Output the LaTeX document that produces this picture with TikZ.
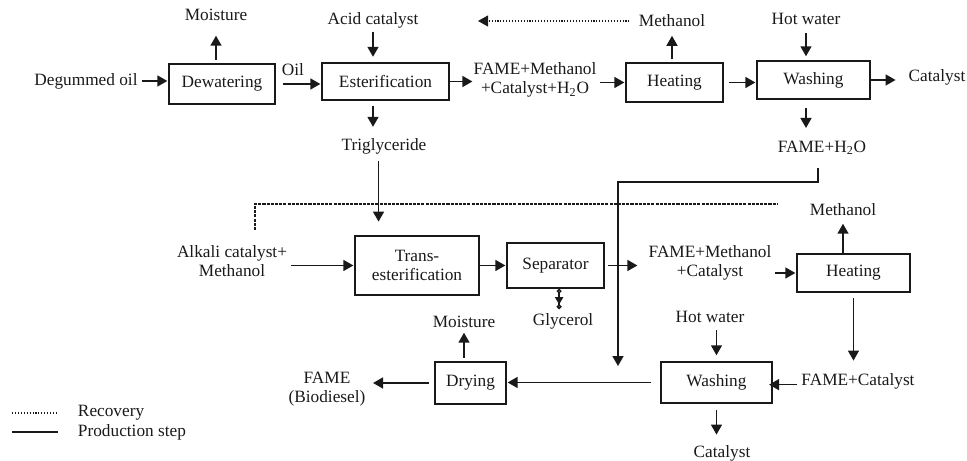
\documentclass[tikz,border=0pt]{standalone}
\usepackage{fontspec}
\setmainfont{Liberation Serif}
\usetikzlibrary{arrows.meta,positioning}
\definecolor{inkcolor}{RGB}{25,25,25}

\begin{document}
\begin{tikzpicture}[x=0.55pt, y=-0.55pt,
    every node/.style={font=\fontsize{9.5}{10.5}\selectfont, text=inkcolor},
    boxsize/.style 2 args={minimum width=#1*0.55pt, minimum height=#2*0.55pt},
    stage/.style={draw=inkcolor, line width=0.8pt, inner sep=0pt, align=center},
    lbl/.style={inner sep=2pt, align=center},
    flow/.style={draw=inkcolor, line width=0.95pt, shorten >=0.5pt,
      -{Triangle[length=5.5pt, width=6pt]}},
    recov/.style={draw=inkcolor, line width=0.6pt, densely dotted},
    recovdash/.style={draw=inkcolor, line width=0.6pt, dash pattern={on 1.7pt off 0.6pt}},
    drain/.style={draw=inkcolor, line width=0.8pt,
      {Circle[open, length=2.6pt]}-{Triangle[length=4pt, width=4.5pt] Circle[open, length=2.6pt]}}]
  \useasboundingbox (0,0) rectangle (967,461);

  % process steps
  \node[stage, boxsize={106}{40}] (dew) at (222,84) {Dewatering};
  \node[stage, boxsize={127}{37}] (est) at (385.5,81.5) {Esterification};
  \node[stage, boxsize={97}{39}] (heatA) at (674.5,82.5) {Heating};
  \node[stage, boxsize={113}{38}] (washA) at (813.5,80) {Washing};
  \node[stage, boxsize={124}{59}] (trans) at (417,265.5) {Trans-\\esterification};
  \node[stage, boxsize={97}{45}] (sep) at (555.5,265.5) {Separator};
  \node[stage, boxsize={113}{38}] (heatB) at (853.5,273) {Heating};
  \node[stage, boxsize={111}{41}] (washB) at (716.5,382.5) {Washing};
  \node[stage, boxsize={71}{42}] (dry) at (470.5,383) {Drying};

  % streams
  \node[lbl] (oil) at (86,81) {Degummed oil};
  \node[lbl] (moistA) at (216,15) {Moisture};
  \node[lbl] (oiltag) at (293,70) {Oil};
  \node[lbl] (acid) at (373,20) {Acid catalyst};
  \node[lbl] (trig) at (384,146) {Triglyceride};
  \node[lbl] (mixA) at (535,80) {FAME+Methanol\\+Catalyst+H\textsubscript{2}O};
  \node[lbl] (methA) at (672,21) {Methanol};
  \node[lbl] (hotA) at (806,19) {Hot water};
  \node[lbl] (catA) at (937,77) {Catalyst};
  \node[lbl] (fameh) at (822,148) {FAME+H\textsubscript{2}O};
  \node[lbl] (alk) at (232,261) {Alkali catalyst+\\Methanol};
  \node[lbl] (gly) at (563,321) {Glycerol};
  \node[lbl] (mixB) at (710,263) {FAME+Methanol\\+Catalyst};
  \node[lbl] (methB) at (843,210) {Methanol};
  \node[lbl] (famec) at (858,381) {FAME+Catalyst};
  \node[lbl] (hotB) at (710,317) {Hot water};
  \node[lbl] (catB) at (722,453) {Catalyst};
  \node[lbl] (moistB) at (464,322) {Moisture};
  \node[lbl] (fame) at (327,389) {FAME\\(Biodiesel)};
  \node[lbl, anchor=west] (legrec) at (74,413) {Recovery};
  \node[lbl, anchor=west] (legprod) at (74,432) {Production step};

  \coordinate (recA) at (478,19);
  \coordinate (recB) at (255,230);
  \coordinate (recC) at (778,204);
  \coordinate (turn) at (818,182);
  \coordinate (drop) at (618,367);

  % upper line
  \draw[flow] (oil.east) -- (oil.east -| dew.west);
  \draw[flow, shorten <=2pt, shorten >=6pt] (moistA.south |- dew.north) -- (moistA.south);
  \draw[flow, shorten <=4pt] (dew.east) -- (dew.east -| est.west);
  \draw[flow, shorten >=3pt] (acid.south) -- (acid.south |- est.north);
  \draw[flow, shorten <=3pt, shorten >=4pt] (acid.south |- est.south) -- (acid.south |- trig.north);
  \draw[flow, shorten <=1.5pt, shorten >=7.5pt] ([xshift=-3pt]trig.south) -- ([xshift=-3pt]trig.south |- trans.north);
  \draw[flow, shorten >=-1.5pt] (est.east) -- (est.east -| mixA.west);
  \draw[flow] (mixA.east |- heatA.west) -- (heatA.west);
  \draw[flow, shorten <=1.6pt, shorten >=2.6pt] (methA.south |- heatA.north) -- (methA.south);
  \draw[recov, -{Triangle[length=5.5pt, width=6pt]}, shorten <=3pt] (methA.west) -- (methA.west -| recA);
  \draw[flow, shorten <=3pt] (heatA.east) -- (heatA.east -| washA.west);
  \draw[flow, shorten <=2.5pt, shorten >=2.2pt] (hotA.south) -- (hotA.south |- washA.north);
  \draw[flow, shorten >=5pt] (washA.east) -- (washA.east -| catA.west);
  \draw[flow, shorten <=4.4pt, shorten >=5pt] (hotA.south |- washA.south) -- (hotA.south |- fameh.north);
  \draw[flow, shorten <=5pt] (fameh.south -| turn) -- (turn) -| (drop);

  % recovery
  \draw[recovdash] (recB) |- (recC);

  % lower line
  \draw[flow] (alk.east |- trans.west) -- (trans.west);
  \draw[flow] (trans.east) -- (sep.west);
  \draw[drain] ([xshift=2pt]sep.south) -- ([xshift=2pt]sep.south |- gly.north);
  \draw[flow, shorten <=2pt, shorten >=4pt] (sep.east) -- (sep.east -| mixB.west);
  \draw[flow] (mixB.east |- heatB.west) -- (heatB.west);
  \draw[flow, shorten >=2pt] (methB.south |- heatB.north) -- (methB.south);
  \draw[flow, shorten <=3pt, shorten >=4.7pt] (heatB.south) -- (heatB.south |- famec.north);
  \draw[flow, shorten >=-2pt] ([yshift=-2pt]famec.west) -- ([yshift=-2pt]famec.west -| washB.east);
  \draw[flow, shorten <=2pt, shorten >=3.3pt] (washB.north |- hotB.south) -- (washB.north);
  \draw[flow, shorten <=3.3pt, shorten >=3.6pt] (washB.south) -- (washB.south |- catB.north);
  \draw[flow, shorten <=5pt] (washB.west) -- (washB.west -| dry.east);
  \draw[flow, shorten <=2pt] (moistB.south |- dry.north) -- (moistB.south);
  \draw[flow, shorten <=3pt, shorten >=2pt] (dry.west) -- (dry.west -| fame.east);

  % legend
  \draw[recov] ([xshift=-34pt]legrec.west) -- ([xshift=-9pt]legrec.west);
  \draw[draw=inkcolor, line width=0.8pt] ([xshift=-34pt]legprod.west) -- ([xshift=-9pt]legprod.west);
\end{tikzpicture}
\end{document}
